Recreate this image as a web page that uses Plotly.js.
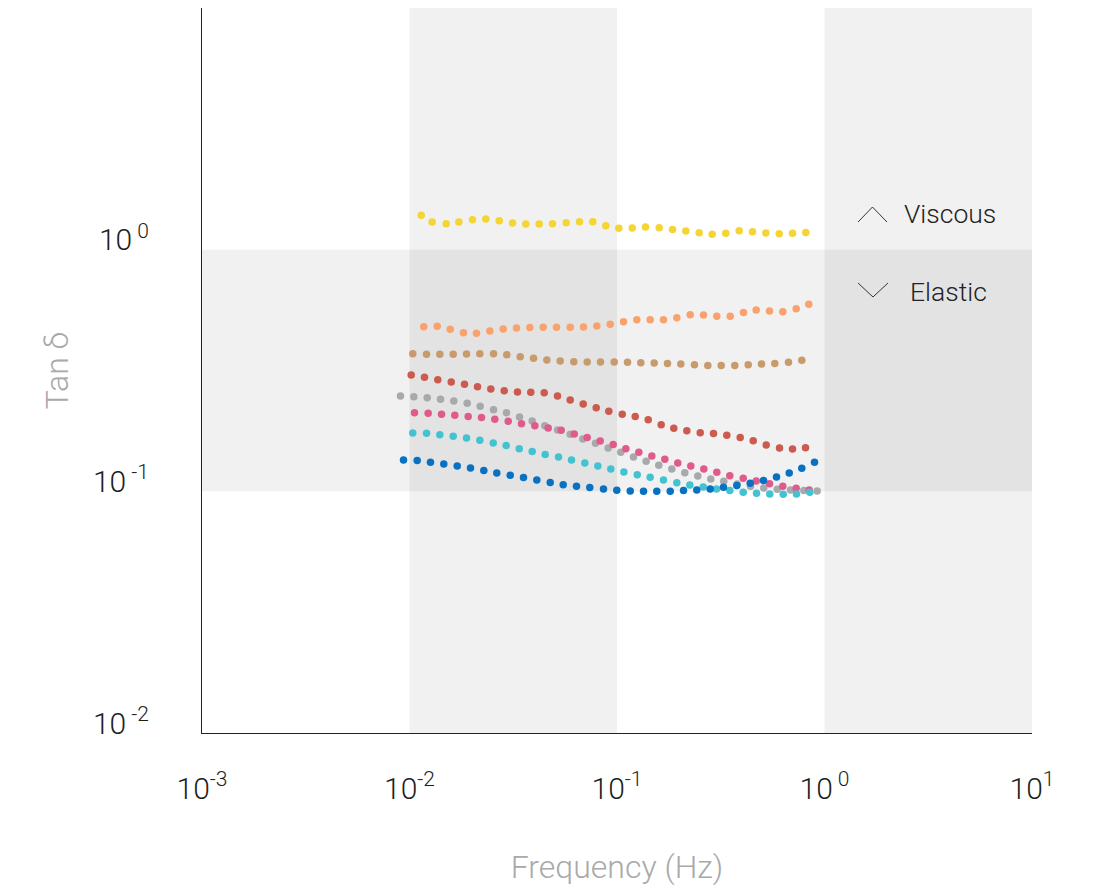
<!DOCTYPE html>
<html>
<head>
<meta charset="utf-8">
<script src="https://cdn.plot.ly/plotly-3.0.1.min.js"></script>
<style>html,body{margin:0;padding:0;background:#fff;}#chart{width:1101px;height:895px;}</style>
</head>
<body>
<div id="chart"></div>
<script>
// Frequencies (Hz) and Tan δ values per sample
const fYellow = [0.01139,0.01286,0.01503,0.01729,0.02012,0.02332,0.02706,0.03136,0.03636,0.04218,0.04889,0.05690,0.06597,0.07645,0.08831,0.1020,0.1184,0.1372,0.1597,0.1851,0.2146,0.2489,0.2876,0.3344,0.3880,0.4498,0.5214,0.6049,0.7012,0.8127];
const tanYellow = [1.387,1.302,1.281,1.302,1.331,1.340,1.318,1.290,1.277,1.277,1.281,1.293,1.306,1.306,1.257,1.225,1.230,1.241,1.233,1.213,1.195,1.176,1.157,1.168,1.198,1.187,1.172,1.165,1.168,1.179];

const fOrange = [0.01172,0.01360,0.01571,0.01820,0.02103,0.02438,0.02829,0.03279,0.03800,0.04409,0.05110,0.05950,0.06897,0.07994,0.09274,0.1075,0.1246,0.1445,0.1675,0.1942,0.2253,0.2612,0.3027,0.3512,0.4071,0.4687,0.5432,0.6296,0.7303,0.8401];
const tanOrange = [0.480,0.4816,0.468,0.4535,0.4505,0.461,0.470,0.4745,0.476,0.477,0.477,0.477,0.4788,0.4834,0.491,0.5036,0.5134,0.5134,0.5134,0.523,0.538,0.5368,0.5297,0.5297,0.549,0.563,0.5578,0.554,0.570,0.594];

const fTan = [0.01037,0.01208,0.01400,0.01624,0.01883,0.02182,0.02541,0.02944,0.03416,0.03960,0.04589,0.05323,0.06192,0.07184,0.08325,0.09694,0.1124,0.1302,0.1511,0.1751,0.2030,0.2363,0.2739,0.3178,0.3696,0.4289,0.4970,0.5760,0.6707,0.7773];
const tanTan = [0.3713,0.3688,0.3688,0.3688,0.3703,0.3713,0.3713,0.3678,0.3608,0.3550,0.3497,0.3464,0.3440,0.3430,0.3430,0.3430,0.3417,0.3407,0.3397,0.3384,0.3365,0.3342,0.3320,0.3320,0.3320,0.3342,0.3365,0.3384,0.3417,0.3483];

const fRed = [0.01019,0.01181,0.01369,0.01589,0.01841,0.02127,0.02465,0.02860,0.03315,0.03842,0.04458,0.05168,0.05950,0.06873,0.07940,0.09130,0.1060,0.1224,0.1414,0.1633,0.1878,0.2170,0.2518,0.2918,0.3382,0.3923,0.4534,0.5236,0.6069,0.7012,0.8099];
const tanRed = [0.3031,0.2962,0.2898,0.2835,0.2771,0.2711,0.2652,0.2609,0.2577,0.2568,0.2561,0.2481,0.2388,0.2299,0.2220,0.2143,0.2083,0.2038,0.1980,0.1888,0.1823,0.1783,0.1749,0.1733,0.1705,0.1672,0.1621,0.1556,0.1512,0.1498,0.1516];

const fGray = [0.009050,0.01049,0.01217,0.01411,0.01635,0.01897,0.02191,0.02541,0.02934,0.03389,0.03902,0.04487,0.05168,0.05950,0.06843,0.07878,0.09070,0.1043,0.1201,0.1382,0.1590,0.1837,0.2122,0.2451,0.2831,0.3270,0.3795,0.4399,0.5099,0.5916,0.6857,0.7947,0.9222];
const tanGray = [0.2481,0.2465,0.2442,0.2402,0.2366,0.2312,0.2247,0.2178,0.2116,0.2032,0.1956,0.1870,0.1795,0.1721,0.1647,0.1580,0.1512,0.1450,0.1388,0.1331,0.1281,0.1238,0.1195,0.1158,0.1125,0.1100,0.1073,0.1049,0.1033,0.1019,0.1013,0.1007,0.1004];

const fPink = [0.01057,0.01230,0.01427,0.01653,0.01918,0.02223,0.02577,0.02990,0.03465,0.04018,0.04661,0.05384,0.06221,0.07184,0.08299,0.09587,0.1103,0.1274,0.1472,0.1700,0.1963,0.2268,0.2620,0.3027,0.3496,0.4057,0.4687,0.5432,0.6296,0.7303,0.8439];
const tanPink = [0.2116,0.2102,0.2083,0.2063,0.2038,0.2019,0.1986,0.1949,0.1906,0.1870,0.1830,0.1789,0.1728,0.1672,0.1616,0.1561,0.1502,0.1450,0.1401,0.1356,0.1311,0.1274,0.1238,0.1199,0.1161,0.1132,0.1104,0.1076,0.1049,0.1029,0.1013];

const fCyan = [0.01037,0.01208,0.01400,0.01624,0.01883,0.02182,0.02532,0.02924,0.03379,0.03902,0.04508,0.05225,0.06035,0.06996,0.08083,0.09335,0.1079,0.1252,0.1445,0.1675,0.1942,0.2243,0.2603,0.3017,0.3496,0.4057,0.4703,0.5451,0.6324,0.7328,0.8496];
const tanCyan = [0.1744,0.1738,0.1716,0.1689,0.1663,0.1626,0.1586,0.1546,0.1502,0.1463,0.1422,0.1388,0.1349,0.1311,0.1274,0.1238,0.1203,0.1172,0.1143,0.1115,0.1086,0.1063,0.1043,0.1023,0.1007,0.0991,0.0981,0.0975,0.0972,0.0975,0.0991];

const fBlue = [0.009356,0.01089,0.01262,0.01463,0.01698,0.01968,0.02281,0.02634,0.03058,0.03543,0.04108,0.04766,0.05504,0.06379,0.07393,0.08608,0.09978,0.1158,0.1342,0.1555,0.1805,0.2092,0.2424,0.2813,0.3260,0.3779,0.4385,0.5082,0.5871,0.6761,0.7773,0.8950];
const tanBlue = [0.1349,0.1340,0.1318,0.1298,0.1274,0.1250,0.1221,0.1192,0.1165,0.1140,0.1115,0.1089,0.1066,0.1049,0.1036,0.1023,0.1010,0.1004,0.1000,0.1000,0.1000,0.1007,0.1013,0.1023,0.1039,0.1058,0.1079,0.1110,0.1147,0.1192,0.1245,0.1318];

const xTickVals = [0.001,0.01,0.1,1,10];
const xTickText = ['10<sup>-3</sup>','10<sup>-2</sup>','10<sup>-1</sup>','10<sup> 0</sup>','10<sup>1</sup>'];
const yTickVals = [0.01,0.1,1];
const yTickText = ['10<sup> -2</sup>','10<sup> -1</sup>','10<sup> 0</sup>'];

const series = [
  {name:'Yellow', x:fYellow, y:tanYellow, color:'#f5d533'},
  {name:'Orange', x:fOrange, y:tanOrange, color:'#f9a26e'},
  {name:'Tan', x:fTan, y:tanTan, color:'#c89b6c'},
  {name:'Red', x:fRed, y:tanRed, color:'#cc5a4e'},
  {name:'Gray', x:fGray, y:tanGray, color:'#a7a9ac'},
  {name:'Pink', x:fPink, y:tanPink, color:'#e05b8b'},
  {name:'Cyan', x:fCyan, y:tanCyan, color:'#43c3d2'},
  {name:'Blue', x:fBlue, y:tanBlue, color:'#0871c2'}
];

const traces = series.map(s => ({
  type:'scatter', mode:'markers', name:s.name, x:s.x, y:s.y,
  marker:{size:7.5, color:s.color, line:{width:0}}, hoverinfo:'x+y'
}));

const font = 'Roboto, "Open Sans", sans-serif';
const band = 'rgba(0,0,0,0.055)';

const layout = {
  width:1101, height:895,
  margin:{l:202, r:69, t:8, b:162},
  paper_bgcolor:'#ffffff', plot_bgcolor:'#ffffff',
  showlegend:false,
  font:{family:font, color:'#222', weight:300},
  xaxis:{
    type:'log', range:[-3,1], tickvals:xTickVals, ticktext:xTickText,
    showgrid:false, zeroline:false, showline:true, linecolor:'#222', linewidth:1,
    ticks:'', ticklabelstandoff:29,
    tickfont:{size:30, color:'#1e1e1e', family:font, weight:300},
    title:{text:'Frequency (Hz)', font:{size:32, color:'#a9a9a9', family:font, weight:300}, standoff:50}
  },
  yaxis:{
    type:'log', range:[-2,1], tickvals:yTickVals, ticktext:yTickText,
    showgrid:false, zeroline:false, showline:true, linecolor:'#222', linewidth:1,
    ticks:'', ticklabelstandoff:46, ticklabelshift:-10,
    tickfont:{size:30, color:'#1e1e1e', family:font, weight:300},
    title:{text:'Tan δ', font:{size:32, color:'#a9a9a9', family:font, weight:300}, standoff:14}
  },
  shapes:[
    {type:'rect', xref:'x', yref:'paper', x0:0.01, x1:0.1, y0:0, y1:1, fillcolor:band, line:{width:0}, layer:'below'},
    {type:'rect', xref:'x', yref:'paper', x0:1, x1:10, y0:0, y1:1, fillcolor:band, line:{width:0}, layer:'below'},
    {type:'rect', xref:'paper', yref:'y', x0:0, x1:1, y0:0.1, y1:1, fillcolor:band, line:{width:0}, layer:'below'},
    {type:'path', xref:'paper', yref:'paper', path:'M0.7904,0.7048 L0.8078,0.7255 L0.8253,0.7048', line:{color:'#333', width:1}},
    {type:'path', xref:'paper', yref:'paper', path:'M0.7904,0.6207 L0.8084,0.6014 L0.8265,0.6207', line:{color:'#333', width:1}}
  ],
  annotations:[
    {xref:'paper', yref:'paper', x:0.8435, y:0.7172, xanchor:'left', yanchor:'middle', text:'Viscous', showarrow:false, font:{size:26.5, color:'#222', family:font, weight:300}},
    {xref:'paper', yref:'paper', x:0.8505, y:0.6083, xanchor:'left', yanchor:'middle', text:'Elastic', showarrow:false, font:{size:26.5, color:'#222', family:font, weight:300}}
  ]
};

Plotly.newPlot('chart', traces, layout, {displayModeBar:false, staticPlot:true});
</script>
</body>
</html>
